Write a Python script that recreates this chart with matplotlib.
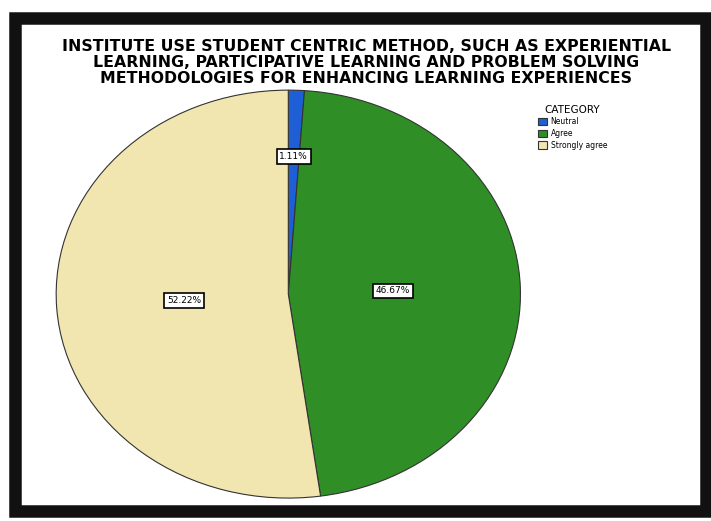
import matplotlib.pyplot as plt
from matplotlib.patches import Rectangle

categories = ['Neutral', 'Agree', 'Strongly agree']
percentages = [1.11, 46.67, 52.22]
colors = ['#1f5fd6', '#2f8f26', '#f1e6b0']

title = ('INSTITUTE USE STUDENT CENTRIC METHOD, SUCH AS EXPERIENTIAL\n'
         'LEARNING, PARTICIPATIVE LEARNING AND PROBLEM SOLVING\n'
         'METHODOLOGIES FOR ENHANCING LEARNING EXPERIENCES')

fig = plt.figure(figsize=(7.11, 5.21), dpi=100)
fig.patch.set_facecolor('white')

# dark frame around the output window
frame = Rectangle((0.021, 0.02), 0.972, 0.945, transform=fig.transFigure,
                  fill=False, edgecolor='#111111', linewidth=9)
fig.patches.append(frame)

ax = fig.add_axes([0.079, 0.044, 0.653, 0.783])
wedges, texts, autotexts = ax.pie(
    percentages, colors=colors, startangle=90, counterclock=False,
    autopct='%1.2f%%', pctdistance=0.45,
    wedgeprops=dict(edgecolor='#333333', linewidth=0.8),
    textprops=dict(fontsize=6.5, color='black'))
ax.set_aspect('auto')
ax.set_xlim(-1.0, 1.0)
ax.set_ylim(-1.0, 1.0)

for t in autotexts:
    t.set_bbox(dict(boxstyle='square,pad=0.3', facecolor='white',
                    edgecolor='black', linewidth=1.2))
# push the thin slice label further out
x, y = autotexts[0].get_position()
autotexts[0].set_position((x * 1.5, y * 1.5))

fig.text(0.515, 0.88, title, ha='center', va='center', fontsize=11.3,
         fontweight='bold', linespacing=1.1)

leg = fig.legend(wedges, categories, title='CATEGORY', loc='upper left',
                 bbox_to_anchor=(0.752, 0.805), frameon=False, fontsize=5.5,
                 title_fontsize=7.5, handlelength=1.2, handleheight=1.1,
                 labelspacing=0.35, borderaxespad=0, handletextpad=0.5)

fig.savefig('out.png', dpi=100)
